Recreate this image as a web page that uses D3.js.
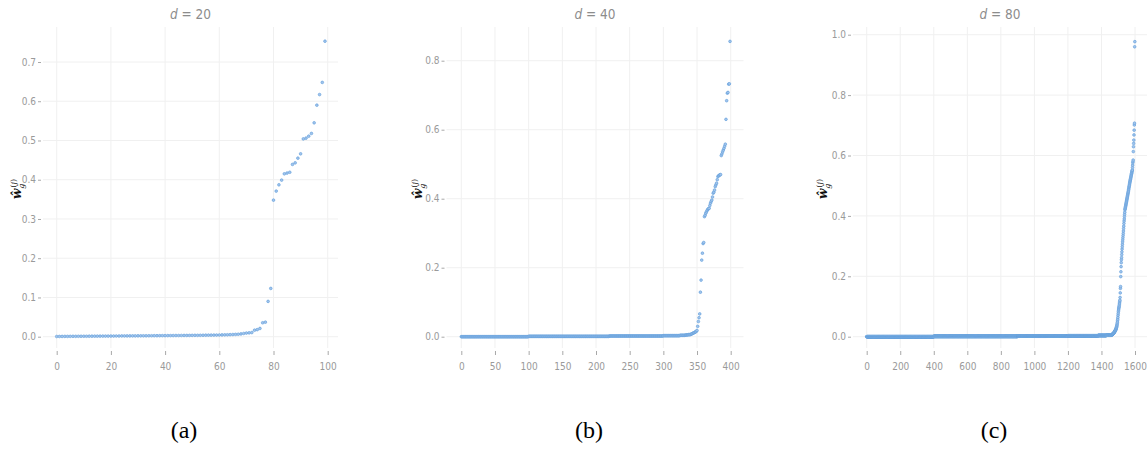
<!DOCTYPE html>
<html><head><meta charset="utf-8">
<script src="https://cdn.jsdelivr.net/npm/d3@7/dist/d3.min.js"></script>
<style>body{margin:0;background:#fff}svg{display:block}</style>
</head><body>
<svg id="chart" width="1147" height="449"></svg>
<script>
// ---------- data ----------
const titles = ["20", "40", "80"];
const captions = ["(a)", "(b)", "(c)"];

// panel (a): d = 20, 100 sorted weights
const valuesA = [
  0.0005,0.0006,0.0007,0.0008,0.0008,0.0009,0.0010,0.0010,0.0011,0.0011,
  0.0012,0.0012,0.0013,0.0013,0.0014,0.0014,0.0015,0.0015,0.0016,0.0016,
  0.0017,0.0017,0.0018,0.0018,0.0019,0.0019,0.0020,0.0020,0.0021,0.0021,
  0.0022,0.0022,0.0023,0.0023,0.0024,0.0024,0.0025,0.0025,0.0026,0.0027,
  0.0027,0.0028,0.0028,0.0029,0.0030,0.0030,0.0031,0.0032,0.0032,0.0033,
  0.0034,0.0035,0.0035,0.0036,0.0037,0.0038,0.0039,0.0040,0.0041,0.0042,
  0.0043,0.0045,0.0047,0.0049,0.0052,0.0055,0.0059,0.0063,0.0070,0.0082,
  0.0093,0.0098,0.0105,0.0165,0.0180,0.0210,0.0355,0.0370,0.0900,0.1230,
  0.348,0.371,0.387,0.399,0.415,0.417,0.419,0.439,0.443,0.455,
  0.466,0.504,0.506,0.511,0.518,0.545,0.590,0.617,0.648,0.753
];

// panel (b): d = 40, 400 sorted weights; flat part in thousandths, one digit per point
const lowB =
  "0000000000 0000000000 0000000000 0000000000 0000000000 0000000000 0000000000 0000000000 0000000000 0000000000 " +
  "1111111111 1111111111 1111111111 1111111111 1111111111 1111111111 1111111111 1111111111 1111111111 1111111111 " +
  "1111111111 1111111111 2222222222 2222222222 2222222222 2222222222 2222222222 2222222222 2222222222 2222222222 " +
  "3333333333 3333333333 3333344444 4445555666";
const tailB = [
  0.006,0.007,0.008,0.009,0.010,0.011,0.012,0.013,0.014,0.016,
  0.018,0.030,0.044,0.055,0.066,0.129,0.164,0.222,0.242,0.270,
  0.273,0.348,0.352,0.358,0.362,0.366,0.369,0.371,0.372,0.380,
  0.387,0.392,0.396,0.405,0.416,0.419,0.425,0.435,0.440,0.445,
  0.455,0.464,0.466,0.468,0.469,0.470,0.525,0.530,0.536,0.541,
  0.546,0.552,0.558,0.630,0.684,0.706,0.708,0.732,0.733,0.856
];

// panel (c): d = 80, 1600 sorted weights; flat part in thousandths, one digit per point
const lowC =
  "0000000000 0000000000 0000000000 0000000000 0000000000 0000000000 0000000000 0000000000 0000000000 0000000000 " +
  "0000000000 0000000000 0000000000 0000000000 0000000000 0000000000 0000000000 0000000000 0000000000 0000000000 " +
  "0000000000 0000000000 0000000000 0000000000 0000000000 0000000000 0000000000 0000000000 0000000000 0000000000 " +
  "0000000000 0000000000 0000000000 0000000000 0000000000 0000000000 0000000000 0000000000 0000000000 0000000000 " +
  "1111111111 1111111111 1111111111 1111111111 1111111111 1111111111 1111111111 1111111111 1111111111 1111111111 " +
  "1111111111 1111111111 1111111111 1111111111 1111111111 1111111111 1111111111 1111111111 1111111111 1111111111 " +
  "1111111111 1111111111 1111111111 1111111111 1111111111 1111111111 1111111111 1111111111 1111111111 1111111111 " +
  "1111111111 1111111111 1111111111 1111111111 1111111111 1111111111 1111111111 1111111111 1111111111 1111111111 " +
  "1111111111 1111111111 1111111111 1111111111 1111111111 1111111111 1111111111 1111111111 1111111111 1111111111 " +
  "2222222222 2222222222 2222222222 2222222222 2222222222 2222222222 2222222222 2222222222 2222222222 2222222222 " +
  "2222222222 2222222222 2222222222 2222222222 2222222222 2222222222 2222222222 2222222222 2222222222 2222222222 " +
  "2222222222 2222222222 2222222222 2222222222 2222222222 2222222222 2222222222 2222222222 2222222222 2222222222 " +
  "3333333333 3333333333 3333333333 3333333333 3333333333 3333333333 3333333333 3333333333 3333333333 3333333333 " +
  "3333333333 3333333333 3333333333 3333333333 3333333333 3333333333 3333333333 3333333333 " +
  "4444444444 4444444444 4444444444 4444444444 4444444444 5555555555 5555555555 5555555555";
const tailC = [
  0.006,0.006,0.007,0.007,0.007,0.008,0.008,0.009,0.009,0.010,
  0.010,0.011,0.011,0.012,0.013,0.013,0.014,0.015,0.016,0.017,
  0.018,0.019,0.020,0.021,0.022,0.023,0.025,0.026,0.028,0.030,
  0.032,0.034,0.037,0.040,0.044,0.048,0.053,0.058,0.064,0.071,
  0.077,0.083,0.088,0.092,0.096,0.099,0.103,0.108,0.112,0.117,
  0.121,0.130,0.145,0.160,0.166,0.199,0.215,0.232,0.245,0.255,
  0.262,0.272,0.281,0.290,0.298,0.306,0.314,0.321,0.328,0.335,
  0.342,0.350,0.358,0.366,0.375,0.383,0.390,0.398,0.405,0.412,
  0.420,0.423,0.426,0.429,0.432,0.435,0.438,0.441,0.444,0.447,
  0.450,0.453,0.456,0.459,0.462,0.465,0.468,0.471,0.474,0.477,
  0.480,0.483,0.487,0.490,0.494,0.497,0.500,0.503,0.507,0.510,
  0.513,0.516,0.519,0.521,0.524,0.527,0.530,0.533,0.536,0.539,
  0.541,0.544,0.547,0.550,0.552,0.560,0.568,0.576,0.580,0.585,
  0.613,0.629,0.640,0.651,0.668,0.684,0.701,0.707,0.960,0.977
];

const xTicksA = [0, 20, 40, 60, 80, 100];
const xTicksB = [0, 50, 100, 150, 200, 250, 300, 350, 400];
const xTicksC = [0, 200, 400, 600, 800, 1000, 1200, 1400, 1600];
const yTicksA = [0, 0.1, 0.2, 0.3, 0.4, 0.5, 0.6, 0.7];
const yTicksB = [0, 0.2, 0.4, 0.6, 0.8];
const yTicksC = [0, 0.2, 0.4, 0.6, 0.8, 1.0];

// ---------- build series ----------
const parseLow = s => s.replace(/\s/g, "").split("").map(c => +c / 1000);
const valuesB = parseLow(lowB).concat(tailB);
const valuesC = parseLow(lowC).concat(tailC);

// ---------- layout ----------
const panels = [
  { vals: valuesA, xMax: 100, xR: [56.7, 327.7], yMax: 0.7, yR: [336.7, 62.0], gL: 43, gR: 338,
    xt: xTicksA, yt: yTicksA, title: titles[0], cap: captions[0], capX: 184, labX: 21 },
  { vals: valuesB, xMax: 400, xR: [461.3, 730.7], yMax: 0.8, yR: [336.7, 60.7], gL: 446.5, gR: 743.5,
    xt: xTicksB, yt: yTicksB, title: titles[1], cap: captions[1], capX: 589, labX: 422 },
  { vals: valuesC, xMax: 1600, xR: [866.7, 1135.0], yMax: 1.0, yR: [336.7, 34.7], gL: 853, gR: 1147,
    xt: xTicksC, yt: yTicksC, title: titles[2], cap: captions[2], capX: 994, labX: 827 }
];

const svg = d3.select("#chart");
const FONT = "'Liberation Sans Narrow','DejaVu Sans Condensed','Roboto',sans-serif";
const gridTop = 27, gridBot = 348;

panels.forEach(p => {
  const x = d3.scaleLinear().domain([0, p.xMax]).range(p.xR);
  const y = d3.scaleLinear().domain([0, p.yMax]).range(p.yR);
  const g = svg.append("g");

  // grid
  g.append("g").selectAll("line").data(p.yt).join("line")
    .attr("x1", p.gL).attr("x2", p.gR).attr("y1", d => y(d)).attr("y2", d => y(d))
    .attr("stroke", "#f0f0f0").attr("stroke-width", 1);
  g.append("g").selectAll("line").data(p.xt).join("line")
    .attr("x1", d => x(d)).attr("x2", d => x(d)).attr("y1", gridTop).attr("y2", gridBot)
    .attr("stroke", "#f0f0f0").attr("stroke-width", 1);

  // axes
  const ya = g.append("g").attr("transform", `translate(${p.gL - 2},0)`)
    .call(d3.axisLeft(y).tickValues(p.yt).tickFormat(d3.format(".1f")).tickSize(3).tickPadding(2));
  const xa = g.append("g").attr("transform", `translate(0,${gridBot + 3})`)
    .call(d3.axisBottom(x).tickValues(p.xt).tickFormat(d3.format("d")).tickSize(4).tickPadding(8));
  [ya, xa].forEach(a => {
    a.select(".domain").remove();
    a.selectAll(".tick line").attr("stroke", "#a8a8a8");
    a.selectAll(".tick text").attr("fill", "#9a9a9a").style("font-family", FONT).style("font-size", "10px");
  });

  // points
  g.append("g").selectAll("circle").data(p.vals).join("circle")
    .attr("cx", (d, i) => x(i)).attr("cy", d => y(d)).attr("r", 1.35)
    .attr("fill", "#a3c5ec").attr("stroke", "#639fdc").attr("stroke-width", 0.65);

  // title
  const t = g.append("text").attr("x", (p.gL + p.gR) / 2).attr("y", 19)
    .attr("text-anchor", "middle").attr("fill", "#8c8c8c")
    .style("font-family", FONT).style("font-size", "13.5px");
  t.append("tspan").style("font-style", "italic").text("d");
  t.append("tspan").text(" = " + p.title);

  // y label  ŵ_g^(j)
  const yl = g.append("text").attr("transform", `translate(${p.labX},189) rotate(-90)`)
    .attr("text-anchor", "middle").attr("fill", "#111")
    .style("font-family", "'DejaVu Serif','Liberation Serif',serif").style("font-size", "12px");
  yl.append("tspan").style("font-style", "italic").style("font-weight", "bold").text("\u0175");
  yl.append("tspan").attr("dy", 3).style("font-size", "8px").style("font-style", "italic").text("g");
  yl.append("tspan").attr("dx", -4).attr("dy", -8).style("font-size", "8px").text("(");
  yl.append("tspan").style("font-size", "8px").style("font-style", "italic").text("j");
  yl.append("tspan").style("font-size", "8px").text(")");

  // caption
  svg.append("text").attr("x", p.capX).attr("y", 438).attr("text-anchor", "middle")
    .attr("fill", "#000").style("font-family", "'Liberation Serif','DejaVu Serif',serif")
    .style("font-size", "24px").text(p.cap);
});
</script>
</body></html>
